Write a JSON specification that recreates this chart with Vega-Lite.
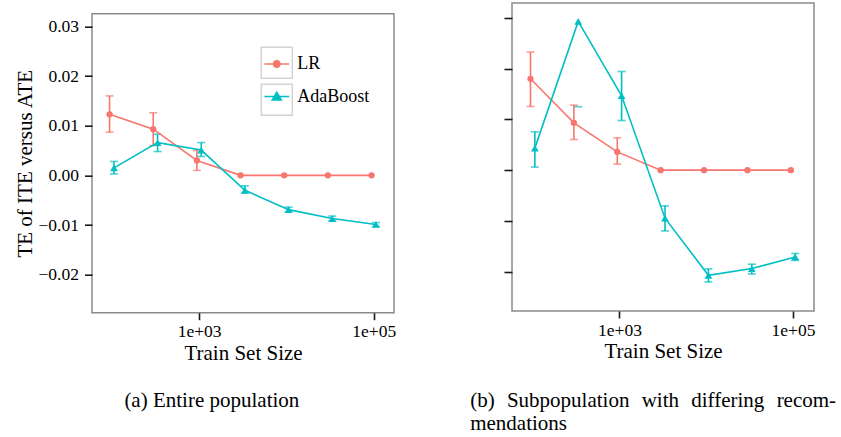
{
  "$schema": "https://vega.github.io/schema/vega-lite/v6.json",
  "padding": {"left": 13, "top": 2, "right": 0, "bottom": 0},
  "autosize": {"type": "pad"},
  "background": "white",
  "datasets": {
    "a": [
      {"model": "LR", "n": 94.4, "te": 0.0123, "lo": 0.0087, "hi": 0.0160},
      {"model": "LR", "n": 298.5, "te": 0.0093, "lo": 0.0060, "hi": 0.0126},
      {"model": "LR", "n": 944, "te": 0.0030, "lo": 0.0010, "hi": 0.0050},
      {"model": "LR", "n": 2985, "te": 0.0, "lo": null, "hi": null},
      {"model": "LR", "n": 9441, "te": 0.0, "lo": null, "hi": null},
      {"model": "LR", "n": 29854, "te": 0.0, "lo": null, "hi": null},
      {"model": "LR", "n": 94406, "te": 0.0, "lo": null, "hi": null},
      {"model": "AdaBoost", "n": 106, "te": 0.0015, "lo": 0.0003, "hi": 0.0028},
      {"model": "AdaBoost", "n": 335, "te": 0.0066, "lo": 0.0048, "hi": 0.0083},
      {"model": "AdaBoost", "n": 1059, "te": 0.0051, "lo": 0.0038, "hi": 0.0066},
      {"model": "AdaBoost", "n": 3350, "te": -0.0030, "lo": -0.0036, "hi": -0.0021},
      {"model": "AdaBoost", "n": 10593, "te": -0.0069, "lo": -0.0074, "hi": -0.0064},
      {"model": "AdaBoost", "n": 33497, "te": -0.0087, "lo": -0.0092, "hi": -0.0082},
      {"model": "AdaBoost", "n": 105925, "te": -0.0099, "lo": -0.0103, "hi": -0.0095}
    ],
    "b": [
      {"model": "LR", "n": 94.4, "te": 0.0900, "lo": 0.0627, "hi": 0.1164},
      {"model": "LR", "n": 298.5, "te": 0.0466, "lo": 0.0302, "hi": 0.0641},
      {"model": "LR", "n": 944, "te": 0.0180, "lo": 0.0059, "hi": 0.0319},
      {"model": "LR", "n": 2985, "te": 0.0, "lo": null, "hi": null},
      {"model": "LR", "n": 9441, "te": 0.0, "lo": null, "hi": null},
      {"model": "LR", "n": 29854, "te": 0.0, "lo": null, "hi": null},
      {"model": "LR", "n": 94406, "te": 0.0, "lo": null, "hi": null},
      {"model": "AdaBoost", "n": 106, "te": 0.0217, "lo": 0.0030, "hi": 0.0378},
      {"model": "AdaBoost", "n": 335, "te": 0.1465, "lo": 0.0625, "hi": null},
      {"model": "AdaBoost", "n": 1059, "te": 0.0733, "lo": 0.0489, "hi": 0.0972},
      {"model": "AdaBoost", "n": 3350, "te": -0.0473, "lo": -0.0599, "hi": -0.0352},
      {"model": "AdaBoost", "n": 10593, "te": -0.1036, "lo": -0.1102, "hi": -0.0973},
      {"model": "AdaBoost", "n": 33497, "te": -0.0970, "lo": -0.1023, "hi": -0.0927},
      {"model": "AdaBoost", "n": 105925, "te": -0.0855, "lo": -0.0889, "hi": -0.0821}
    ],
    "keys": [{"box": "a", "n": 1000, "te": 0}, {"box": "b", "n": 1000, "te": 0}],
    "none": []
  },
  "hconcat": [
    {
      "title": {"text": "(a) Entire population", "orient": "bottom", "anchor": "middle", "frame": "bounds", "offset": 26, "dx": 7},
      "spacing": 7.7,
      "vconcat": [
        {
          "width": 1,
          "height": 1,
          "view": {"stroke": "transparent"},
          "data": {"name": "none"},
          "mark": "point"
        },
        {
          "width": 302,
          "height": 299,
          "data": {"name": "a"},
          "encoding": {
            "x": {"field": "n", "type": "quantitative", "scale": {"type": "log", "domain": [59.4, 170600], "nice": false},
              "axis": {"title": "Train Set Size", "values": [1000, 100000], "labelExpr": "datum.value == 1000 ? '1e+03' : '1e+05'", "tickSize": 7, "labelPadding": 3, "titlePadding": 2}},
            "y": {"field": "te", "type": "quantitative", "scale": {"domain": [-0.02766, 0.03256], "nice": false, "zero": false},
              "axis": {"title": "TE of ITE versus ATE", "values": [-0.02, -0.01, 0, 0.01, 0.02, 0.03], "format": ".2f", "tickSize": 7.5, "labelPadding": 6, "titlePadding": 3}}
          },
          "layer": [
            {"transform": [{"filter": "isValid(datum.hi) && isValid(datum.lo)"}],
             "mark": {"type": "rule", "strokeWidth": 1.6},
             "encoding": {"y": {"field": "lo", "type": "quantitative"}, "y2": {"field": "hi"},
               "color": {"field": "model", "type": "nominal", "scale": {"domain": ["LR", "AdaBoost"], "range": ["#F8766D", "#00BFC4"]},
              "legend": {
                "orient": "none", "legendX": 168.3, "legendY": 44.5, "title": null, "padding": 0,
                "symbolSize": 961, "symbolStrokeWidth": 1.5, "rowPadding": 6.5, "labelOffset": 4, "labelFontSize": 18, "labelFont": "Liberation Serif", "labelColor": "#000",
                "encode": {
                  "symbols": {"update": {
                    "shape": {"signal": "datum.value === 'LR' ? 'M-0.8,0L0.8,0M0.2,0A0.2,0.2,0,1,1,-0.2,0A0.2,0.2,0,1,1,0.2,0Z' : 'M-0.8,0L0.8,0M0,-0.27L0.29,0.22L-0.29,0.22Z'"},
                    "fill": {"signal": "datum.value === 'LR' ? '#F8766D' : '#00BFC4'"},
                    "stroke": {"signal": "datum.value === 'LR' ? '#F8766D' : '#00BFC4'"},
                    "strokeWidth": {"value": 1.6},
                    "opacity": {"value": 1}
                  }}
                }
              }}}},
            {"transform": [{"filter": "isValid(datum.lo)"}],
             "mark": {"type": "tick", "orient": "horizontal", "size": 8, "thickness": 1.6},
             "encoding": {"y": {"field": "lo", "type": "quantitative"}, "color": {"field": "model", "type": "nominal"}}},
            {"transform": [{"filter": "isValid(datum.hi)"}],
             "mark": {"type": "tick", "orient": "horizontal", "size": 8, "thickness": 1.6},
             "encoding": {"y": {"field": "hi", "type": "quantitative"}, "color": {"field": "model", "type": "nominal"}}},
            {"mark": {"type": "line", "strokeWidth": 1.6},
             "encoding": {"color": {"field": "model", "type": "nominal"}}},
            {"transform": [{"filter": "datum.model === 'LR'"}],
             "mark": {"type": "point", "shape": "circle", "filled": true, "size": 40, "opacity": 1},
             "encoding": {"color": {"field": "model", "type": "nominal"}}},
            {"transform": [{"filter": "datum.model === 'AdaBoost'"}],
             "mark": {"type": "point", "shape": "triangle-up", "filled": true, "size": 60, "opacity": 1},
             "encoding": {"color": {"field": "model", "type": "nominal"}}},
            {"data": {"name": "keys"},
             "mark": {"type": "point", "filled": false, "size": 0, "color": "#d4d4d4", "strokeWidth": 1.5},
             "encoding": {
               "shape": {"field": "box", "type": "nominal", "scale": {"domain": ["a", "b"], "range": ["square", "square"]},
                 "legend": {
                   "orient": "none", "legendX": 168.3, "legendY": 43.25, "title": null, "padding": 0,
                   "symbolSize": 961, "symbolStrokeWidth": 1.5, "symbolStrokeColor": "#d4d4d4", "symbolFillColor": "transparent", "symbolOpacity": 1,
                   "rowPadding": 0, "labelOffset": 4, "labelFontSize": 18, "labelExpr": "''"
                 }}
             }}
          ]
        }
      ]
    },
    {
      "title": {"text": ["(b)\u00a0\u00a0\u200aSubpopulation\u00a0\u00a0\u200awith\u00a0\u00a0\u200adiffering\u00a0\u00a0\u200arecom-", "mendations"], "orient": "bottom", "anchor": "start", "frame": "bounds", "offset": 28, "dx": -33, "lineHeight": 23.5},
      "width": 302,
      "height": 308,
      "data": {"name": "b"},
      "encoding": {
        "x": {"field": "n", "type": "quantitative", "scale": {"type": "log", "domain": [57.8, 174500], "nice": false},
          "axis": {"title": "Train Set Size", "values": [1000, 100000], "labelExpr": "datum.value == 1000 ? '1e+03' : '1e+05'", "tickSize": 7, "labelPadding": 3, "titlePadding": 2}},
        "y": {"field": "te", "type": "quantitative", "scale": {"domain": [-0.1388, 0.1647], "nice": false, "zero": false},
          "axis": {"title": null, "labels": false, "values": [-0.1, -0.05, 0, 0.05, 0.1, 0.15], "tickSize": 8}},
        "color": {"field": "model", "type": "nominal", "scale": {"domain": ["LR", "AdaBoost"], "range": ["#F8766D", "#00BFC4"]}, "legend": null}
      },
      "layer": [
        {"transform": [{"filter": "isValid(datum.hi) && isValid(datum.lo)"}],
         "mark": {"type": "rule", "strokeWidth": 1.6},
         "encoding": {"y": {"field": "lo", "type": "quantitative"}, "y2": {"field": "hi"}}},
        {"transform": [{"filter": "isValid(datum.lo)"}],
         "mark": {"type": "tick", "orient": "horizontal", "size": 8, "thickness": 1.6},
         "encoding": {"y": {"field": "lo", "type": "quantitative"}}},
        {"transform": [{"filter": "isValid(datum.hi)"}],
         "mark": {"type": "tick", "orient": "horizontal", "size": 8, "thickness": 1.6},
         "encoding": {"y": {"field": "hi", "type": "quantitative"}}},
        {"mark": {"type": "line", "strokeWidth": 1.6}},
        {"transform": [{"filter": "datum.model === 'LR'"}],
         "mark": {"type": "point", "shape": "circle", "filled": true, "size": 40, "opacity": 1}},
        {"transform": [{"filter": "datum.model === 'AdaBoost'"}],
         "mark": {"type": "point", "shape": "triangle-up", "filled": true, "size": 60, "opacity": 1}}
      ]
    }
  ],
  "spacing": 72,
  "resolve": {"scale": {"color": "independent", "shape": "independent", "x": "independent", "y": "independent"}, "legend": {"color": "independent", "shape": "independent"}},
  "config": {
    "font": "Liberation Serif",
    "view": {"stroke": "#8a8a8a", "strokeWidth": 1.5},
    "axis": {"domain": false, "grid": false, "tickColor": "#1a1a1a", "tickWidth": 1.6, "labelFont": "Liberation Serif", "labelFontSize": 17.5, "labelColor": "#000", "titleFont": "Liberation Serif", "titleFontSize": 21, "titleFontWeight": "normal", "titleColor": "#000"},
    "title": {"font": "Liberation Serif", "fontSize": 21, "fontWeight": "normal", "color": "#000"}
  }
}
